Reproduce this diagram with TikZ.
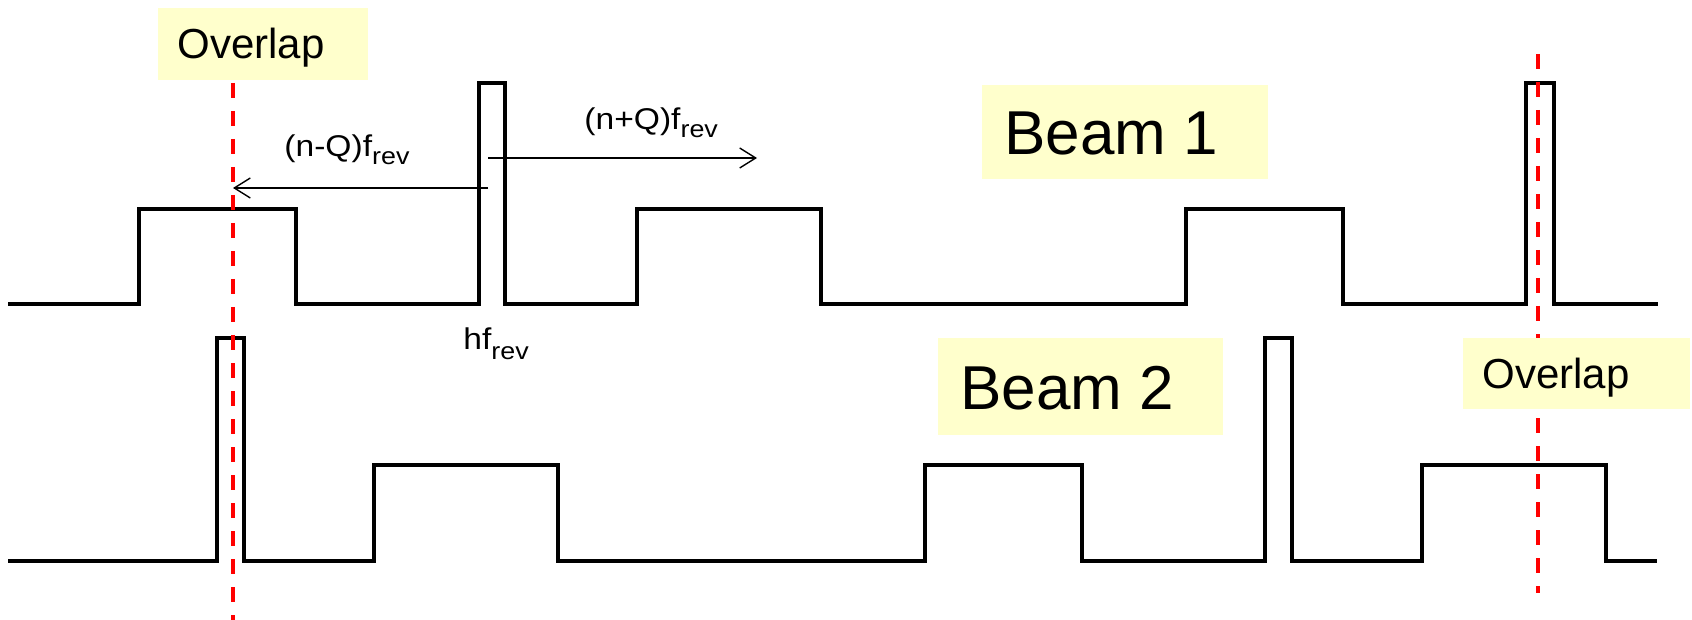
\documentclass[tikz,border=0pt]{standalone}
\usepackage{fontspec}
\setmainfont{Liberation Sans}
\usetikzlibrary{arrows.meta}
\definecolor{ylw}{HTML}{FFFFCC}
\begin{document}
\begin{tikzpicture}[x=0.5pt,y=-0.5pt,
  wave/.style={line width=2pt,line join=miter,black},
  overlapline/.style={red,line width=1.7pt,dash pattern=on 7.5pt off 6.5pt},
  ybox/.style={fill=ylw,draw=none},
  lbl/.style={inner sep=0pt,anchor=base west},
  freqarrow/.style={line width=0.7pt,-{Straight Barb[length=8pt,width=10pt,line width=0.7pt]}},
  bigfont/.style={font=\fontsize{31}{36}\selectfont},
  midfont/.style={font=\fontsize{21}{25}\selectfont},
  smallfont/.style={font=\fontsize{15}{18}\selectfont}]
\useasboundingbox (0,0) rectangle (1692,620);
% Beam 1 waveform
\draw[wave] (8,304) -- (139,304) -- (139,209) -- (296,209) -- (296,304) -- (479,304) -- (479,83) -- (505,83) -- (505,304) -- (637,304) -- (637,209) -- (821,209) -- (821,304) -- (1186,304) -- (1186,209) -- (1343,209) -- (1343,304) -- (1526,304) -- (1526,83) -- (1554,83) -- (1554,304) -- (1658,304);
% Beam 2 waveform
\draw[wave] (8,561) -- (217,561) -- (217,338) -- (244,338) -- (244,561) -- (374,561) -- (374,465) -- (558,465) -- (558,561) -- (925,561) -- (925,465) -- (1082,465) -- (1082,561) -- (1265,561) -- (1265,338) -- (1292,338) -- (1292,561) -- (1422,561) -- (1422,465) -- (1606,465) -- (1606,561) -- (1657,561);
% overlap lines
\coordinate (ov1top) at (233,83);
\coordinate (ov1bot) at (233,620);
\coordinate (ov2top) at (1538,54);
\coordinate (ov2bot) at (1538,593);
\draw[overlapline] (ov1top) -- (ov1bot);
\draw[overlapline] (ov2top) -- (ov2bot);
% arrows
\coordinate (lstart) at (488,188);
\coordinate (lend) at (233,188);
\coordinate (rstart) at (488,158);
\coordinate (rend) at (757,158);
\draw[freqarrow] (lstart) -- (lend);
\draw[freqarrow] (rstart) -- (rend);
% labels
\node[lbl,smallfont] (nmq) at (284,157) {\scalebox{1.12}[1]{(n-Q)f\raisebox{-4pt}{\fontsize{12}{14}\selectfont rev}}};
\node[lbl,smallfont] (npq) at (584,130) {\scalebox{1.12}[1]{(n+Q)f\raisebox{-4pt}{\fontsize{12}{14}\selectfont rev}}};
\node[lbl,smallfont] (hf) at (463,350) {\scalebox{1.12}[1]{hf\raisebox{-5pt}{\fontsize{12}{14}\selectfont rev}}};
% yellow boxes
\path[ybox] (158,8) rectangle (368,80);
\node[lbl,midfont] (ov1) at (177,59) {Overlap};
\path[ybox] (1463,338) rectangle (1690,409);
\node[lbl,midfont] (ov2) at (1482,388) {Overlap};
\path[ybox] (982,85) rectangle (1268,179);
\node[lbl,bigfont] (b1) at (1004,155) {Beam 1};
\path[ybox] (938,338) rectangle (1223,435);
\node[lbl,bigfont] (b2) at (960,409) {Beam 2};
\end{tikzpicture}
\end{document}
